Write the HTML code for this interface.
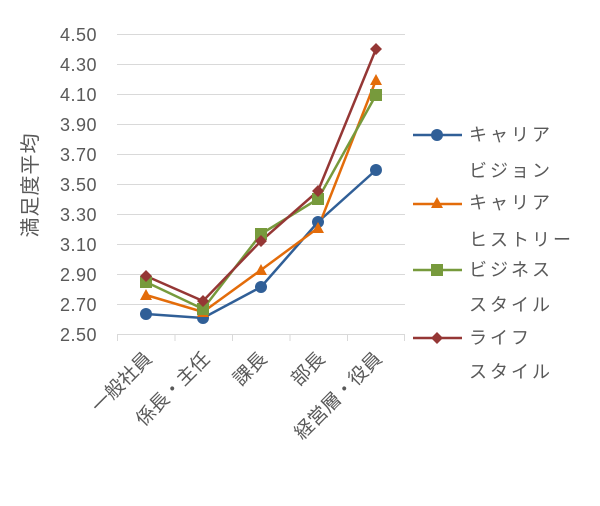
<!DOCTYPE html>
<html><head><meta charset="utf-8"><style>
body{margin:0;background:#fff}
svg text{font-family:"Liberation Sans","Noto Sans CJK JP",sans-serif;fill:#595959}
</style></head><body>
<svg width="600" height="501" viewBox="0 0 600 501" xmlns="http://www.w3.org/2000/svg">
<g stroke="#d9d9d9" stroke-width="1">
<line x1="117" x2="405" y1="34.5" y2="34.5"/>
<line x1="117" x2="405" y1="64.5" y2="64.5"/>
<line x1="117" x2="405" y1="94.5" y2="94.5"/>
<line x1="117" x2="405" y1="124.5" y2="124.5"/>
<line x1="117" x2="405" y1="154.5" y2="154.5"/>
<line x1="117" x2="405" y1="184.5" y2="184.5"/>
<line x1="117" x2="405" y1="214.5" y2="214.5"/>
<line x1="117" x2="405" y1="244.5" y2="244.5"/>
<line x1="117" x2="405" y1="274.5" y2="274.5"/>
<line x1="117" x2="405" y1="304.5" y2="304.5"/>
<line x1="117" x2="405" y1="334.5" y2="334.5"/>
<path d="M117.5 334v7M175 334v7M232.5 334v7M290 334v7M347.5 334v7M404.5 334v7"/>
</g>
<g font-size="18" text-anchor="end" letter-spacing="0.5">
<text x="97" y="41">4.50</text><text x="97" y="71">4.30</text><text x="97" y="101">4.10</text>
<text x="97" y="131">3.90</text><text x="97" y="161">3.70</text><text x="97" y="191">3.50</text>
<text x="97" y="221">3.30</text><text x="97" y="251">3.10</text><text x="97" y="281">2.90</text>
<text x="97" y="311">2.70</text><text x="97" y="341">2.50</text>
</g>
<text transform="translate(31,185) rotate(-90)" font-size="20" text-anchor="middle" dominant-baseline="central" letter-spacing="1">満足度平均</text>
<g font-size="19" text-anchor="end" dominant-baseline="central">
<text transform="translate(149,356) rotate(-45)">一般社員</text>
<text transform="translate(207,356) rotate(-45)">係長・主任</text>
<text transform="translate(264,356) rotate(-45)">課長</text>
<text transform="translate(322,356) rotate(-45)">部長</text>
<text transform="translate(379,356) rotate(-45)">経営層・役員</text>
</g>
<g fill="none" stroke-width="2.5">
<polyline stroke="#305f97" points="146,314 203,318 261,287 318,222 376,170"/>
<polyline stroke="#e36c0a" points="146,295 203,312 261,270 318,228 376,80"/>
<polyline stroke="#779a3c" points="146,282 203,309 261,234 318,199 376,95"/>
<polyline stroke="#953735" points="146,276 203,301 261,241 318,191 376,49"/>
</g>
<g fill="#305f97"><circle cx="146" cy="314" r="6"/><circle cx="203" cy="318" r="6"/><circle cx="261" cy="287" r="6"/><circle cx="318" cy="222" r="6"/><circle cx="376" cy="170" r="6"/></g>
<g fill="#e36c0a"><path d="M146 289l6 11h-12zM203 306l6 11h-12zM261 264l6 11h-12zM318 222l6 11h-12zM376 74l6 11h-12z"/></g>
<g fill="#779a3c"><rect x="140" y="276" width="12" height="12"/><rect x="197" y="303" width="12" height="12"/><rect x="255" y="228" width="12" height="12"/><rect x="312" y="193" width="12" height="12"/><rect x="370" y="89" width="12" height="12"/></g>
<g fill="#953735"><path d="M146 270l6 6-6 6-6-6zM203 295l6 6-6 6-6-6zM261 235l6 6-6 6-6-6zM318 185l6 6-6 6-6-6zM376 43l6 6-6 6-6-6z"/></g>
<g stroke-width="2.5"><line x1="413" x2="462" y1="135" y2="135" stroke="#305f97"/><line x1="413" x2="462" y1="204" y2="204" stroke="#e36c0a"/><line x1="413" x2="462" y1="270" y2="270" stroke="#779a3c"/><line x1="413" x2="462" y1="338" y2="338" stroke="#953735"/></g>
<circle cx="437" cy="135" r="6" fill="#305f97"/>
<path d="M437 197l6 11h-12z" fill="#e36c0a"/>
<rect x="431" y="264" width="12" height="12" fill="#779a3c"/>
<path d="M437 332l6 6-6 6-6-6z" fill="#953735"/>
<g font-size="18" letter-spacing="3" dominant-baseline="central">
<text x="469" y="135">キャリア</text><text x="469" y="171">ビジョン</text>
<text x="469" y="203">キャリア</text><text x="469" y="240">ヒストリー</text>
<text x="469" y="270">ビジネス</text><text x="469" y="305">スタイル</text>
<text x="469" y="338">ライフ</text><text x="469" y="372">スタイル</text>
</g>
</svg>
</body></html>
